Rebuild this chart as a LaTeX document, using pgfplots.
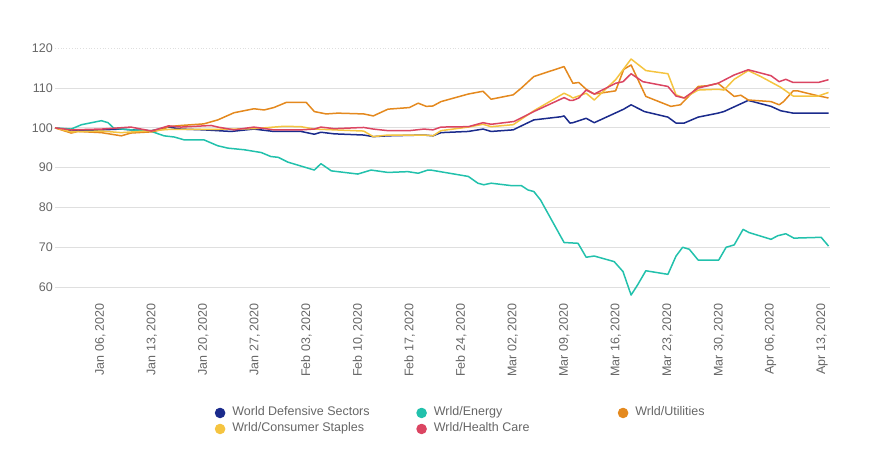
\documentclass[border=0pt]{standalone}
\usepackage{pgfplots}
\pgfplotsset{compat=1.18}
\usepackage{fontspec}
\setmainfont{Liberation Sans}

\definecolor{cDef}{HTML}{1B2B8C}
\definecolor{cEne}{HTML}{22C1AC}
\definecolor{cUti}{HTML}{E4891E}
\definecolor{cSta}{HTML}{F5C440}
\definecolor{cHea}{HTML}{DB4562}
\definecolor{txt}{HTML}{666666}

\newcommand{\lbl}[1]{\makebox[184pt][l]{#1}}

\begin{document}
\begin{tikzpicture}
\path[use as bounding box] (0,0) rectangle (870pt,450pt);
\begin{axis}[
  at={(55pt,147pt)}, anchor=south west,
  scale only axis,
  width=775pt, height=262.7pt,
  xmin=0, xmax=105.2,
  ymin=56, ymax=122,
  axis line style={draw=none},
  major tick length=0pt,
  ytick={60,70,80,90,100,110},
  extra y ticks={120},
  extra y tick style={grid style={gray!25, dotted, line width=0.8pt}},
  ymajorgrids,
  grid style={gray!25, line width=0.8pt},
  xtick={6,13,20,27,34,41,48,55,62,69,76,83,90,97,104},
  xticklabels={{Jan 06, 2020}, {Jan 13, 2020}, {Jan 20, 2020}, {Jan 27, 2020},
    {Feb 03, 2020}, {Feb 10, 2020}, {Feb 17, 2020}, {Feb 24, 2020},
    {Mar 02, 2020}, {Mar 09, 2020}, {Mar 16, 2020}, {Mar 23, 2020},
    {Mar 30, 2020}, {Apr 06, 2020}, {Apr 13, 2020}},
  xticklabel style={rotate=90, anchor=east, inner sep=0pt, yshift=-1pt,
    font=\fontsize{12.5}{14}\selectfont, text=txt},
  yticklabel style={anchor=east, inner sep=0pt, xshift=-2pt,
    font=\fontsize{12.5}{14}\selectfont, text=txt},
  /pgf/number format/assume math mode=true,
  clip=false,
  every axis plot/.append style={line width=1.5pt, line join=round},
  legend columns=3,
  legend image code/.code={\fill[#1] (5pt,0pt) circle (4.5pt);},
  legend style={
    at={(0.206,-0.395)}, anchor=north west,
    draw=none, fill=none, inner sep=0pt,
    font=\fontsize{12.5}{15}\selectfont, text=txt,
    nodes={inner sep=0pt, text height=9pt, text depth=3pt},
    row sep=4pt,
    /tikz/every odd column/.style={column sep=7pt},
    /tikz/every even column/.style={column sep=0pt},
  },
]
% World Defensive Sectors
\addplot[color=cDef] coordinates {
(0,100) (2.2,99.2) (6.3,99.5) (9.0,99.7) (10.3,99.5) (13.1,99.3) (15.4,100.2)
(17.1,99.7) (20.2,99.5) (23.9,99.1) (27.0,99.7) (29.7,99.1) (33.4,99.1)
(35.2,98.4) (36.1,98.9) (37.9,98.5) (41.9,98.2) (43.2,97.8) (45.2,98.0)
(50.1,98.2) (51.3,98.0) (52.4,98.8) (56.1,99.1) (58.1,99.7) (59.2,99.1)
(62.2,99.5) (63.3,100.5) (65.0,102.0) (68.7,102.8) (69.1,103.0) (69.9,101.2)
(70.3,101.3) (72.1,102.4) (73.2,101.3) (77.2,104.7) (78.2,105.8) (80.0,104.1)
(83.2,102.7) (84.3,101.2) (85.4,101.2) (87.3,102.7) (90.0,103.7) (90.8,104.1)
(94.1,106.9) (97.2,105.4) (98.5,104.3) (100.2,103.7) (105.0,103.7)
};
\addlegendentry{\lbl{World Defensive Sectors}}
% Energy
\addplot[color=cEne] coordinates {
(0,100) (2.2,99.7) (3.6,100.8) (6.3,101.8) (7.2,101.3) (8.0,99.9) (10.3,99.5)
(13.1,99.1) (14.8,98.0) (16.2,97.7) (17.5,97.0) (20.2,97.0) (22.1,95.5)
(23.5,94.9) (25.7,94.5) (28.0,93.8) (29.3,92.8) (30.3,92.6) (31.6,91.4)
(35.2,89.4) (36.1,91.0) (37.2,89.6) (37.5,89.2) (41.1,88.4) (42.9,89.4)
(45.2,88.8) (47.9,89.0) (49.3,88.6) (50.6,89.4) (51.0,89.4) (56.1,87.8)
(57.4,86.1) (58.2,85.7) (59.2,86.1) (61.9,85.5) (63.3,85.5) (64.2,84.4)
(65.0,84.0) (65.9,81.9) (69.1,71.2) (71.0,71.0) (72.1,67.5) (73.2,67.8)
(75.9,66.4) (77.1,63.9) (78.2,58.0) (79.1,60.6) (80.2,64.1) (83.2,63.2)
(84.3,67.8) (85.2,70.0) (86.1,69.5) (87.3,66.8) (90.1,66.8) (91.1,70.0)
(92.2,70.6) (93.4,74.5) (94.2,73.7) (97.2,72.0) (98.1,72.9) (99.2,73.4)
(100.3,72.3) (104.0,72.5) (105.0,70.3)
};
\addlegendentry{\lbl{Wrld/Energy}}
% Utilities
\addplot[color=cUti] coordinates {
(0,100) (2.2,98.7) (3.1,99.1) (6.3,98.8) (9.0,98.0) (10.3,98.7) (13.1,99.0)
(14.4,99.5) (15.4,100.3) (17.1,100.6) (20.2,101.0) (22.1,102.0) (24.3,103.8)
(27.0,104.8) (28.4,104.5) (29.7,105.1) (31.4,106.4) (34.1,106.4) (35.2,104.1)
(36.8,103.5) (38.4,103.7) (41.9,103.5) (43.2,103.0) (45.2,104.7) (48.1,105.1)
(49.3,106.2) (50.4,105.4) (51.3,105.5) (52.4,106.6) (56.1,108.5) (58.1,109.2)
(59.2,107.2) (62.2,108.3) (63.3,110.0) (65.0,112.9) (69.1,115.4) (70.3,111.2)
(71.1,111.4) (72.1,109.7) (73.2,108.5) (76.1,109.3) (77.2,114.7) (78.2,115.8)
(80.2,107.9) (83.6,105.4) (84.9,105.8) (87.3,110.4) (88.6,110.6) (90.0,111.2)
(92.2,107.9) (93.1,108.2) (94.1,107.0) (97.2,106.6) (98.3,105.8) (98.9,106.6)
(100.2,109.3) (100.8,109.3) (103.0,108.3) (105.0,107.5)
};
\addlegendentry{\lbl{Wrld/Utilities}}
% Consumer Staples
\addplot[color=cSta] coordinates {
(0,100) (2.2,99.0) (6.3,99.2) (9.0,98.8) (13.1,99.3) (15.4,99.6) (20.2,99.6)
(24.3,99.7) (27.0,99.8) (31.1,100.4) (33.4,100.3) (35.2,99.7) (37.9,99.5)
(41.9,99.2) (43.2,97.8) (45.2,98.2) (50.1,98.2) (51.3,98.0) (52.4,99.3)
(56.1,100.2) (58.1,100.9) (59.2,100.3) (62.2,100.8) (65.0,104.3) (69.1,108.7)
(69.9,108.0) (70.3,107.5) (72.1,108.7) (73.2,107.0) (76.1,112.1) (78.2,117.3)
(80.2,114.4) (83.2,113.6) (84.3,108.3) (85.4,107.5) (87.3,109.5) (90.0,109.7)
(90.8,109.5) (92.2,112.2) (94.1,114.4) (95.8,112.9) (98.5,110.2) (100.2,108.0)
(103.6,108.0) (105.0,108.9)
};
\addlegendentry{\lbl{Wrld/Consumer Staples}}
% Health Care
\addplot[color=cHea] coordinates {
(0,100) (2.2,99.5) (6.3,99.7) (10.3,100.2) (13.1,99.2) (15.4,100.5) (17.1,100.2)
(21.2,100.6) (22.1,100.2) (24.3,99.5) (27.0,100.2) (29.7,99.5) (33.4,99.5)
(35.2,99.7) (36.1,100.2) (37.9,99.8) (41.9,100.1) (43.2,99.7) (45.2,99.3)
(48.1,99.3) (50.1,99.7) (51.3,99.5) (52.4,100.2) (56.1,100.3) (58.1,101.3)
(59.2,100.9) (62.3,101.6) (65.0,104.1) (69.1,107.6) (69.9,106.9) (70.3,106.9)
(71.1,107.5) (72.1,109.5) (73.2,108.5) (76.1,111.2) (77.1,111.6) (78.2,113.6)
(79.8,111.6) (83.2,110.4) (84.3,108.0) (85.4,107.5) (87.3,110.0) (90.0,111.2)
(92.2,113.3) (94.1,114.6) (97.2,113.1) (98.3,111.6) (99.2,112.2) (100.2,111.4)
(103.6,111.4) (105.0,112.1)
};
\addlegendentry{\lbl{Wrld/Health Care}}
\end{axis}
\end{tikzpicture}
\end{document}
